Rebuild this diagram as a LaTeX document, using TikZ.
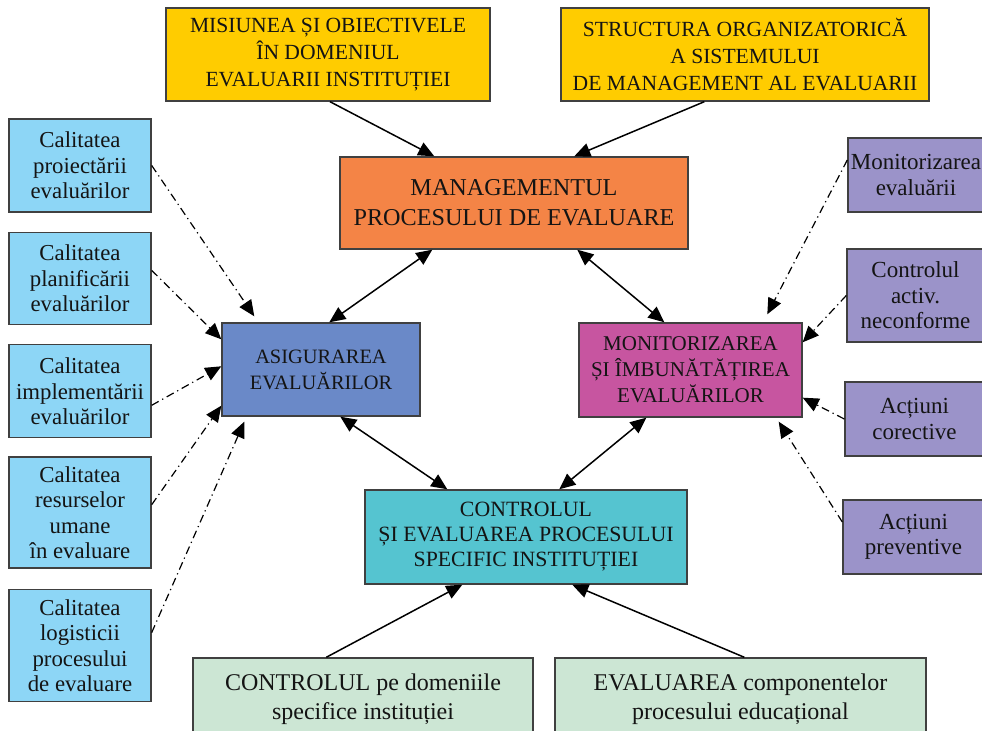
\documentclass[tikz,border=0pt]{standalone}
\usepackage{fontspec}
\setmainfont{Liberation Serif}
\usepackage{tikz}
\usetikzlibrary{positioning,arrows.meta}
\definecolor{goalyellow}{RGB}{255,204,0}
\definecolor{mgmtorange}{RGB}{244,132,70}
\definecolor{asigblue}{RGB}{106,137,200}
\definecolor{monitpink}{RGB}{199,85,160}
\definecolor{ctrlcyan}{RGB}{85,196,208}
\definecolor{basegreen}{RGB}{204,230,212}
\definecolor{qualsky}{RGB}{141,214,246}
\definecolor{actpurple}{RGB}{155,147,201}
\tikzstyle{box} = [draw=black!75, line width=0.7pt, inner sep=0pt, align=center, text=black!92]
\tikzstyle{goal} = [box, fill=goalyellow, minimum height=46.5pt, font=\fontsize{10.8}{13.5}\selectfont]
\tikzstyle{mgmt} = [box, fill=mgmtorange, minimum width=174pt, minimum height=46pt, font=\fontsize{12.1}{15}\selectfont]
\tikzstyle{quality} = [box, fill=qualsky, minimum width=71pt, font=\fontsize{11.4}{12.7}\selectfont]
\tikzstyle{action} = [box, fill=actpurple, font=\fontsize{11.5}{12.7}\selectfont]
\tikzstyle{base} = [box, fill=basegreen, minimum height=41pt, font=\fontsize{12}{14.5}\selectfont]
\tikzstyle{flow} = [draw, line width=0.75pt, -{Triangle[length=8pt,width=7pt]}]
\tikzstyle{both} = [flow, {Triangle[length=8pt,width=7pt]}-{Triangle[length=8pt,width=7pt]}]
\tikzstyle{link} = [draw, line width=0.6pt, dash pattern=on 4pt off 2pt on 0.6pt off 2pt, -{Triangle[length=8pt,width=7pt]}]
\begin{document}
\begin{tikzpicture}[x=0.5pt,y=-0.5pt]
  \useasboundingbox (0,0) rectangle (982,731);
  \clip (0,0) rectangle (982,731);
  \node[goal, minimum width=162pt] (mission) at (328,54.5) {MISIUNEA ȘI OBIECTIVELE\\ÎN DOMENIUL\\EVALUARII INSTITUȚIEI};
  \node[goal, minimum width=184pt] (structure) at (745,54.5) {STRUCTURA ORGANIZATORICĂ\\A SISTEMULUI\\DE MANAGEMENT AL EVALUARII};
  \node[mgmt] (management) at (514,203) {MANAGEMENTUL\\PROCESULUI DE EVALUARE};
  \node[box, fill=asigblue, minimum width=99pt, minimum height=46.5pt, font=\fontsize{10.2}{13}\selectfont] (assurance) at (321,369.5) {ASIGURAREA\\EVALUĂRILOR};
  \node[box, fill=monitpink, minimum width=111.5pt, minimum height=47pt, font=\fontsize{10.5}{13}\selectfont] (monitoring) at (690.5,370) {MONITORIZAREA\\ȘI ÎMBUNĂTĂȚIREA\\EVALUĂRILOR};
  \node[box, fill=ctrlcyan, minimum width=161pt, minimum height=47pt, font=\fontsize{10.9}{12.5}\selectfont] (control) at (526,537) {CONTROLUL\\ȘI EVALUAREA PROCESULUI\\SPECIFIC INSTITUȚIEI};
  \node[base, minimum width=170pt] (domains) at (363,699) {CONTROLUL pe domeniile\\specifice instituției};
  \node[base, minimum width=185.5pt] (components) at (740.5,699) {EVALUAREA componentelor\\procesului educațional};

  \node[quality, minimum height=46.5pt] (design) at (80,165.5) {Calitatea\\proiectării\\evaluărilor};
  \node[quality, minimum height=46pt, below=9.5pt of design] (planning) {Calitatea\\planificării\\evaluărilor};
  \node[quality, minimum height=46.5pt, below=9.5pt of planning] (implementation) {Calitatea\\implementării\\evaluărilor};
  \node[quality, minimum height=55.5pt, below=9pt of implementation] (resources) {Calitatea\\resurselor\\umane\\în evaluare};
  \node[quality, minimum height=56pt, below=10pt of resources] (logistics) {Calitatea\\logisticii\\procesului\\de evaluare};

  \node[action, minimum width=68pt, minimum height=37pt] (monitor) at (916,175) {Monitorizarea\\evaluării};
  \node[action, minimum width=68.5pt, minimum height=46.5pt] (nonconform) at (915.5,295.5) {Controlul\\activ.\\neconforme};
  \node[action, minimum width=69.5pt, minimum height=37pt] (corrective) at (914.5,419) {Acțiuni\\corective};
  \node[action, minimum width=70.5pt, minimum height=37pt] (preventive) at (913.5,537) {Acțiuni\\preventive};

  \draw[flow] ([xshift=1pt]mission.south) -- ([xshift=47.5pt]management.north west);
  \draw[flow] ([xshift=72pt]structure.south west) -- ([xshift=117.5pt]management.north west);
  \draw[both] ([xshift=46.5pt]management.south west) -- ([xshift=54pt]assurance.north west);
  \draw[both] ([xshift=119pt]management.south west) -- ([xshift=43pt]monitoring.north west);
  \draw[both] ([xshift=59.5pt]assurance.south west) -- ([xshift=41.5pt]control.north west);
  \draw[both] ([xshift=34pt]monitoring.south west) -- ([xshift=97.5pt]control.north west);
  \draw[flow] ([xshift=67pt]domains.north west) -- ([xshift=49pt]control.south west);
  \draw[flow] ([xshift=95pt]components.north west) -- ([xshift=104pt]control.south west);

  \draw[link] (design.east) -- ([xshift=16.5pt,yshift=3pt]assurance.north west);
  \draw[link] ([yshift=4pt]planning.east) -- ([yshift=-8.5pt]assurance.north west);
  \draw[link] ([yshift=-7pt]implementation.east) -- ([yshift=-22pt]assurance.north west);
  \draw[link] ([yshift=4pt]resources.east) -- ([yshift=5.5pt]assurance.south west);
  \draw[link] ([yshift=6.5pt]logistics.east) -- ([xshift=11.5pt,yshift=-2.5pt]assurance.south west);

  \draw[link] ([yshift=7.5pt]monitor.west) -- ([xshift=94.5pt,yshift=4pt]monitoring.north west);
  \draw[link] (nonconform.west) -- ([yshift=-10pt]monitoring.north east);
  \draw[link] (corrective.west) -- ([yshift=10pt]monitoring.south east);
  \draw[link] ([yshift=7.5pt]preventive.west) -- ([xshift=-12pt,yshift=-2pt]monitoring.south east);
\end{tikzpicture}
\end{document}
